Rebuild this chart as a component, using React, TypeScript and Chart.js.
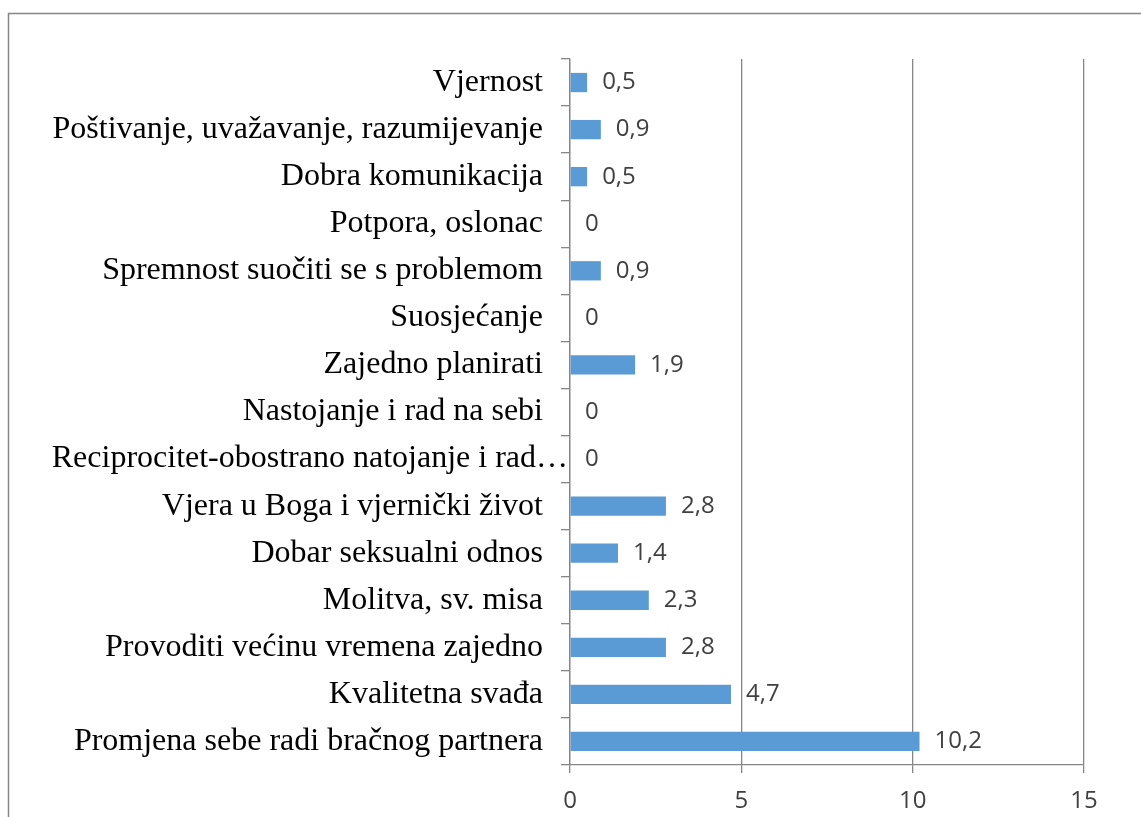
import React, { useEffect, useRef } from "react";
import { Chart, registerables } from "chart.js";

Chart.register(...registerables);

const categories: string[] = [
  "Vjernost",
  "Poštivanje, uvažavanje, razumijevanje",
  "Dobra komunikacija",
  "Potpora, oslonac",
  "Spremnost suočiti se s problemom",
  "Suosjećanje",
  "Zajedno planirati",
  "Nastojanje i rad na sebi",
  "Reciprocitet-obostrano natojanje i rad…",
  "Vjera u Boga i vjernički život",
  "Dobar seksualni odnos",
  "Molitva, sv. misa",
  "Provoditi većinu vremena zajedno",
  "Kvalitetna svađa",
  "Promjena sebe radi bračnog partnera",
];

const values: number[] = [0.5, 0.9, 0.5, 0, 0.9, 0, 1.9, 0, 0, 2.8, 1.4, 2.3, 2.8, 4.7, 10.2];

const xTicks: number[] = [0, 5, 10, 15];

// index of the truncated (overflowing) category label
const truncatedIndex = 8;

const fmt = (v: number) => String(v).replace(".", ",");

const catFont = "32px 'Liberation Serif'";

export default function App() {
  const ref = useRef<HTMLCanvasElement>(null);

  useEffect(() => {
    if (!ref.current) return;

    const framePlugin = {
      id: "frame",
      beforeDraw(chart: any) {
        const ctx = chart.ctx;
        ctx.save();
        ctx.fillStyle = "#ffffff";
        ctx.fillRect(0, 0, chart.width, chart.height);
        ctx.strokeStyle = "#868686";
        ctx.lineWidth = 1.5;
        ctx.strokeRect(8.5, 13.5, chart.width + 20, chart.height + 20);
        ctx.restore();
      },
    };

    const labelPlugin = {
      id: "valueLabels",
      afterDatasetsDraw(chart: any) {
        const ctx = chart.ctx;
        const meta = chart.getDatasetMeta(0);
        ctx.save();
        ctx.font = "24px 'Open Sans'";
        ctx.fillStyle = "#404040";
        ctx.textAlign = "left";
        ctx.textBaseline = "middle";
        meta.data.forEach((bar: any, i: number) => {
          ctx.fillText(fmt(values[i]), bar.x + 15, bar.y);
        });
        // overflowing category label, drawn closer to the axis as in the source
        const yScale = chart.scales.y;
        const yPos = yScale.getPixelForValue(truncatedIndex);
        ctx.font = catFont;
        ctx.fillStyle = "#000000";
        ctx.textAlign = "right";
        ctx.fillText(categories[truncatedIndex], chart.chartArea.left - 2, yPos);
        ctx.restore();
      },
    };

    const chart = new Chart(ref.current, {
      type: "bar",
      data: {
        labels: categories,
        datasets: [
          {
            data: values,
            backgroundColor: "#5B9BD5",
            borderWidth: 0,
            barPercentage: 0.41,
            categoryPercentage: 1,
          },
        ],
      },
      options: {
        indexAxis: "y",
        responsive: false,
        animation: false,
        layout: { padding: { left: 0, right: 57, top: 59, bottom: 0 } },
        plugins: {
          legend: { display: false },
          tooltip: { enabled: false },
        },
        scales: {
          x: {
            min: 0,
            max: 15,
            afterBuildTicks: (scale: any) => {
              scale.ticks = xTicks.map((v) => ({ value: v }));
            },
            afterFit: (scale: any) => {
              scale.height = 52;
            },
            grid: {
              color: "#868686",
              lineWidth: 1.3,
              tickLength: 8,
            },
            border: { display: true, color: "#868686", width: 1.3 },
            ticks: {
              padding: 14,
              color: "#404040",
              font: { family: "'Open Sans'", size: 24 },
            },
          },
          y: {
            afterFit: (scale: any) => {
              scale.width = 570;
            },
            grid: {
              drawOnChartArea: false,
              color: "#868686",
              lineWidth: 1.3,
              tickLength: 9,
              offset: true,
            },
            border: { display: true, color: "#868686", width: 1.3 },
            ticks: {
              padding: 18,
              color: (c: any) => (c.index === truncatedIndex ? "rgba(0,0,0,0)" : "#000000"),
              autoSkip: false,
              font: { family: "'Liberation Serif'", size: 32 },
            },
          },
        },
      },
      plugins: [framePlugin, labelPlugin],
    });

    return () => chart.destroy();
  }, []);

  return (
    <div style={{ position: "fixed", left: 0, top: 0, width: 1141, height: 817 }}>
      <canvas ref={ref} width={1141} height={817} />
    </div>
  );
}
